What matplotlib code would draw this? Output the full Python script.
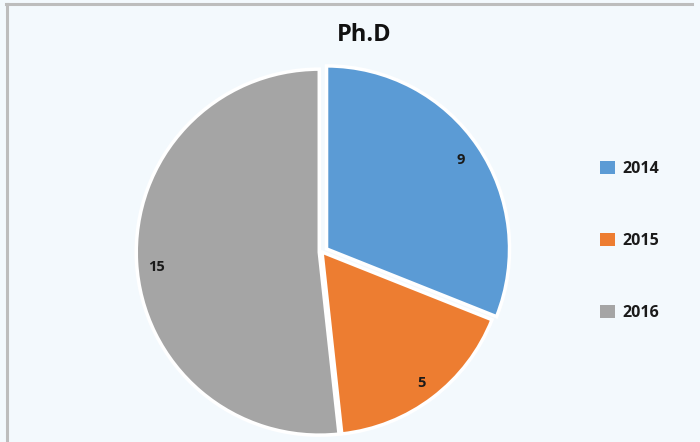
import matplotlib
matplotlib.use("Agg")
import matplotlib.pyplot as plt
from matplotlib.lines import Line2D
from matplotlib.patches import Patch

title = "Ph.D"
categories = ["2014", "2015", "2016"]
values = [9, 5, 15]
colors = ["#5B9BD5", "#ED7D31", "#A5A5A5"]

W, H = 700, 442
fig = plt.figure(figsize=(W / 100, H / 100), dpi=100)
bg = "#F3F9FD"
fig.patch.set_facecolor(bg)
FONT = ["Open Sans", "DejaVu Sans"]

# border lines (top and left)
fig.add_artist(Line2D([6 / W, 692 / W], [1 - 3.5 / H, 1 - 3.5 / H], color="#BDBDBD", lw=2.2, transform=fig.transFigure))
fig.add_artist(Line2D([6.5 / W, 6.5 / W], [0, 1 - 3.5 / H], color="#BDBDBD", lw=2.2, transform=fig.transFigure))

cx, cy, R = 322, 252, 183
lim = 1.1
size = 2 * lim * R
ax = fig.add_axes([(cx - size / 2) / W, (H - cy - size / 2) / H, size / W, size / H])
ax.set_xlim(-lim, lim)
ax.set_ylim(-lim, lim)
ax.set_aspect("equal")
ax.axis("off")

wedges, texts = ax.pie(values, colors=colors, startangle=90, counterclock=False,
                       labels=[str(v) for v in values], labeldistance=0.9,
                       explode=[0.03, 0.0, 0.015], radius=1,
                       wedgeprops=dict(edgecolor="white", linewidth=2.5),
                       textprops=dict(fontsize=10.5, fontweight="bold", color="#1A1A1A", family=FONT))
for t in texts:
    t.set_ha("center")
    t.set_va("center")
texts[0].set_position((texts[0].get_position()[0] - 0.01, texts[0].get_position()[1] - 0.02))
texts[2].set_position((texts[2].get_position()[0] + 0.01, texts[2].get_position()[1] - 0.03))
ax.set_xlim(-lim, lim)
ax.set_ylim(-lim, lim)

fig.text(364 / W, 1 - 35 / H, title, ha="center", va="center", fontsize=17,
         fontweight="bold", family=FONT, color="#111111")

handles = [Patch(facecolor=c, edgecolor="none") for c in colors]
leg = fig.legend(handles, categories, loc="center left", bbox_to_anchor=(586 / W, 1 - 241 / H),
                 frameon=False, labelspacing=3.5, handlelength=0.9, handleheight=0.9,
                 handletextpad=0.45, prop=dict(family=FONT, weight="bold", size=11.5))
for t in leg.get_texts():
    t.set_color("#1A1A1A")

fig.savefig("out.png", dpi=100, facecolor=bg)
